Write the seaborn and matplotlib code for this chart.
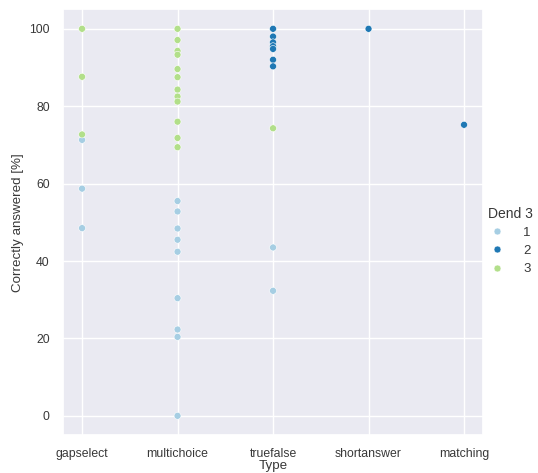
"""Scatter of correctly answered percentage per question type, coloured by cluster."""

import matplotlib.pyplot as plt
import pandas as pd
import seaborn as sns

types = (
    ["gapselect"] * 6
    + ["multichoice"] * 21
    + ["truefalse"] * 10
    + ["shortanswer"]
    + ["matching"]
)
percent = [
    # gapselect
    48.5, 58.7, 71.3, 100.0, 87.6, 72.7,
    # multichoice
    55.5, 52.8, 48.4, 45.5, 42.4, 30.4, 22.3, 20.4, 0.0,
    100.0, 97.1, 94.3, 93.3, 89.6, 87.5, 84.3, 82.5, 81.2, 76.0, 71.8, 69.4,
    # truefalse
    43.5, 32.3, 100.0, 98.0, 96.5, 95.5, 94.8, 92.0, 90.3, 74.3,
    # shortanswer
    100.0,
    # matching
    75.2,
]
dend = (
    ["1", "1", "1", "3", "3", "3"]
    + ["1"] * 9 + ["3"] * 12
    + ["1", "1"] + ["2"] * 7 + ["3"]
    + ["2"]
    + ["2"]
)
type_order = ["gapselect", "multichoice", "truefalse", "shortanswer", "matching"]
dend_order = ["1", "2", "3"]

df = pd.DataFrame({"Type": types, "Correctly answered [%]": percent, "Dend 3": dend})

sns.set_theme(style="darkgrid", font_scale=0.8)
plt.rcParams["font.family"] = ["Liberation Sans", "DejaVu Sans"]
for key in ("text.color", "axes.labelcolor", "xtick.color", "ytick.color"):
    plt.rcParams[key] = "#383838"
palette = sns.color_palette("Paired", 3)

fig, ax = plt.subplots(figsize=(5.38, 4.73), dpi=100)
fig.subplots_adjust(left=0.117, right=0.898, bottom=0.08, top=0.98)

# numeric positions keep the category order fixed on the x axis
df["_x"] = df["Type"].map({t: i for i, t in enumerate(type_order)})
sns.scatterplot(
    data=df,
    x="_x",
    y="Correctly answered [%]",
    hue="Dend 3",
    hue_order=dend_order,
    palette=palette,
    s=25,
    ax=ax,
)
ax.set_xticks(range(len(type_order)))
ax.set_xticklabels(type_order)
ax.set_xlabel("Type", labelpad=0)
ax.set_yticks(range(0, 101, 20))

leg = fig.legend(
    *ax.get_legend_handles_labels(),
    title="Dend 3",
    loc="center left",
    bbox_to_anchor=(488 / 538, 1 - 241 / 473),
    frameon=False,
    borderpad=0,
    borderaxespad=0,
    handlelength=1.0,
    handletextpad=1.5,
    labelspacing=0.45,
    fontsize=9.5,
    title_fontsize=10,
)
ax.get_legend().remove()

fig.savefig("out.png", dpi=100)
